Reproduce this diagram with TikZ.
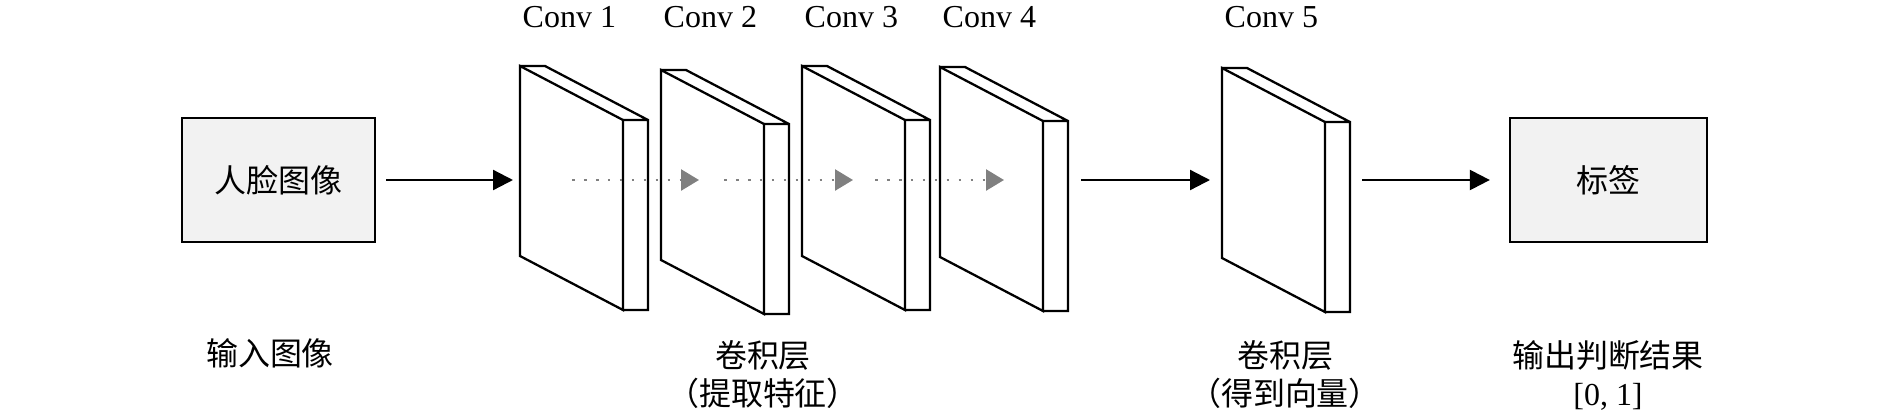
\documentclass[tikz,border=0pt]{standalone}
\usepackage{fontspec}
\setmainfont{Liberation Serif}
\newfontfamily\cjk{Noto Sans CJK SC}
\usetikzlibrary{arrows.meta}

\begin{document}
\begin{tikzpicture}[
    font=\fontsize{9.1pt}{10pt}\selectfont,
    box/.style={draw, line width=0.65pt, fill=black!5, minimum width=1.93cm, minimum height=1.24cm, font=\fontsize{9.1pt}{10pt}\selectfont\cjk},
    slab/.style={draw, line width=0.65pt},
    arr/.style={line width=0.65pt, -{Triangle[length=0.2cm, width=0.2cm]}},
    dotarr/.style={black!50, line width=0.75pt, dash pattern=on 0.75pt off 2.65pt, -{Triangle[length=0.18cm, width=0.21cm]}},
    lbl/.style={inner sep=0pt},
    note/.style={inner sep=0pt, align=center, font=\fontsize{9.1pt}{10.8pt}\selectfont\cjk},
]
    \useasboundingbox (0,0) rectangle (18.9,4.12);

    % input and output
    \node[box] (in) at (2.785,2.32) {人脸图像};
    \node[box, minimum width=1.97cm] (out) at (16.085,2.32) {标签};

    % conv layers
    \foreach \n/\x/\y in {1/5.20/3.46, 2/6.61/3.42, 3/8.02/3.46, 4/9.40/3.45, 5/12.22/3.44} {
        \draw[slab] (\x,\y) coordinate (s\n) -- ++(1.03,-0.54) -- ++(0,-1.90) -- ++(-1.03,0.54) -- cycle;
        \draw[slab] (s\n) -- ++(0.25,0) -- ++(1.03,-0.54) -- ++(0,-1.90) -- ++(-0.25,0) ++(0,1.90) -- ++(0.25,0);
        \coordinate (m\n) at (\x,2.32);
        \node[lbl, anchor=base west] (t\n) at (\x+0.02,3.85) {Conv \n};
    }

    \draw[arr] ([xshift=0.1cm]in.east) -- ([xshift=-0.07cm]m1);
    \draw[dotarr] ([xshift=0.52cm]m1) -- ([xshift=0.38cm]m2);
    \draw[dotarr] ([xshift=0.63cm]m2) -- ([xshift=0.51cm]m3);
    \draw[dotarr] ([xshift=0.73cm]m3) -- ([xshift=0.64cm]m4);
    \draw[arr] ([xshift=1.41cm]m4) -- ([xshift=-0.12cm]m5);
    \draw[arr] ([xshift=1.40cm]m5) -- ([xshift=-0.19cm]out.west);

    % captions
    \node[note] (c1) at (2.70,0.59) {输入图像};
    \node[note] (c2) at (7.63,0.37) {卷积层\\（提取特征）};
    \node[note] (c3) at (12.85,0.37) {卷积层\\（得到向量）};
    \node[note] (c4) at (16.08,0.37) {输出判断结果\\{\rmfamily [0, 1]}};
\end{tikzpicture}
\end{document}
